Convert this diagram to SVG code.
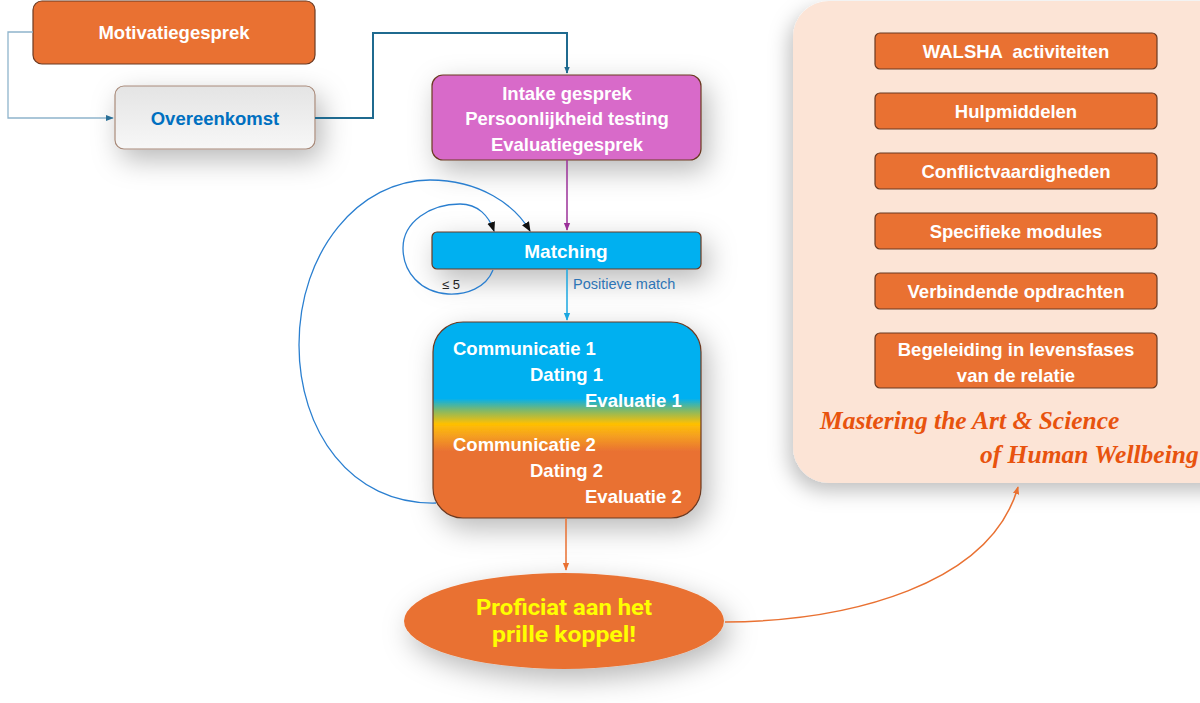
<svg xmlns="http://www.w3.org/2000/svg" width="1200" height="703" viewBox="0 0 1200 703">
<defs>
<style>
.box{stroke:#6b3a22;stroke-width:1.2}
.org{fill:#E97132}
.t{font-family:"Liberation Sans",Arial,sans-serif;font-weight:bold;font-size:18.5px;fill:#fff;white-space:pre}
.c{text-anchor:middle}
.con{fill:none}
.scr{font-family:"Liberation Serif",serif;font-style:italic;font-weight:bold;font-size:25.5px;fill:#E8530E}
</style>
<filter id="sh" x="-60%" y="-200%" width="220%" height="500%">
<feDropShadow dx="6" dy="10" stdDeviation="14" flood-color="#000" flood-opacity="0.28"/>
</filter>
<filter id="sh2" x="-20%" y="-20%" width="140%" height="140%">
<feDropShadow dx="-4" dy="8" stdDeviation="10" flood-color="#000" flood-opacity="0.25"/>
</filter>
<linearGradient id="gray" x1="0" y1="0" x2="0" y2="1">
<stop offset="0" stop-color="#e4e4e4"/><stop offset="1" stop-color="#f7f7f7"/>
</linearGradient>
<linearGradient id="grad" x1="0" y1="0" x2="0" y2="1">
<stop offset="0" stop-color="#00B0F0"/>
<stop offset="0.39" stop-color="#00B0F0"/>
<stop offset="0.45" stop-color="#7fb86a"/>
<stop offset="0.52" stop-color="#FFC000"/>
<stop offset="0.58" stop-color="#f5a020"/>
<stop offset="0.66" stop-color="#E97132"/>
<stop offset="1" stop-color="#E97132"/>
</linearGradient>
<marker id="aBlue" viewBox="0 0 10 10" refX="9" refY="5" markerWidth="7" markerHeight="7" orient="auto" markerUnits="userSpaceOnUse"><path d="M0,1 L10,5 L0,9 z" fill="#1f6a8f"/></marker>
<marker id="aLight" viewBox="0 0 10 10" refX="9" refY="5" markerWidth="8" markerHeight="8" orient="auto" markerUnits="userSpaceOnUse"><path d="M0,1 L10,5 L0,9 z" fill="#2a6f96"/></marker>
<marker id="aPurp" viewBox="0 0 10 10" refX="9" refY="5" markerWidth="8" markerHeight="8" orient="auto" markerUnits="userSpaceOnUse"><path d="M0,1 L10,5 L0,9 z" fill="#9b3099"/></marker>
<marker id="aCyan" viewBox="0 0 10 10" refX="9" refY="5" markerWidth="8" markerHeight="8" orient="auto" markerUnits="userSpaceOnUse"><path d="M0,1 L10,5 L0,9 z" fill="#1ba7e0"/></marker>
<marker id="aBlack" viewBox="0 0 10 10" refX="9" refY="5" markerWidth="10" markerHeight="10" orient="auto" markerUnits="userSpaceOnUse"><path d="M0,1 L10,5 L0,9 z" fill="#111"/></marker>
<marker id="aOrg" viewBox="0 0 10 10" refX="9" refY="5" markerWidth="8" markerHeight="8" orient="auto" markerUnits="userSpaceOnUse"><path d="M0,1 L10,5 L0,9 z" fill="#E97132"/></marker>
</defs>
<rect width="1200" height="703" fill="#fff"/>

<g id="panel">
<rect x="793" y="1" width="460" height="482" rx="36" fill="#FCE4D6" filter="url(#sh2)"/>
<text class="scr" x="820" y="429">Mastering the Art &amp; Science</text>
<text class="scr" x="980" y="463">of Human Wellbeing</text>
</g>
<g id="walsha"><rect class="box org" x="875" y="33" width="282" height="36" rx="5"/><text class="t c" x="1016" y="58">WALSHA  activiteiten</text></g>
<g id="hulp"><rect class="box org" x="875" y="93" width="282" height="36" rx="5"/><text class="t c" x="1016" y="118">Hulpmiddelen</text></g>
<g id="conflict"><rect class="box org" x="875" y="153" width="282" height="36" rx="5"/><text class="t c" x="1016" y="178">Conflictvaardigheden</text></g>
<g id="specifiek"><rect class="box org" x="875" y="213" width="282" height="36" rx="5"/><text class="t c" x="1016" y="238">Specifieke modules</text></g>
<g id="verbindend"><rect class="box org" x="875" y="273" width="282" height="36" rx="5"/><text class="t c" x="1016" y="298">Verbindende opdrachten</text></g>
<g id="begeleiding"><rect class="box org" x="875" y="333" width="282" height="55" rx="5"/><text class="t c" x="1016" y="356">Begeleiding in levensfases</text><text class="t c" x="1016" y="382">van de relatie</text></g>

<g id="motivatie"><rect class="box org" x="33" y="1" width="282" height="63" rx="9"/><text class="t c" x="174" y="39">Motivatiegesprek</text></g>
<g id="overeenkomst"><rect x="115" y="86" width="200" height="63" rx="9" fill="url(#gray)" stroke="#a88a7a" stroke-width="1.2" filter="url(#sh)"/><text class="t c" x="215" y="125" style="fill:#0070C0">Overeenkomst</text></g>
<g id="intake"><rect class="box" x="432" y="75" width="269" height="85" rx="11" fill="#D86BC9" filter="url(#sh)"/><text class="t c" x="567" y="100">Intake gesprek</text><text class="t c" x="567" y="125">Persoonlijkheid testing</text><text class="t c" x="567" y="151">Evaluatiegesprek</text></g>
<g id="matching"><rect class="box" x="432" y="232" width="269" height="37" rx="5" fill="#00B0F0" filter="url(#sh)"/><text class="t c" x="566" y="258" style="font-size:19px">Matching</text></g>
<g id="dating"><rect class="box" x="433" y="322" width="268" height="196" rx="30" fill="url(#grad)" filter="url(#sh)"/>
<text class="t" x="453" y="355">Communicatie 1</text><text class="t" x="530" y="381">Dating 1</text><text class="t" x="585" y="407">Evaluatie 1</text>
<text class="t" x="453" y="451">Communicatie 2</text><text class="t" x="530" y="477">Dating 2</text><text class="t" x="585" y="503">Evaluatie 2</text></g>
<g id="proficiat"><ellipse cx="564" cy="621" rx="160" ry="48" fill="#E97132" filter="url(#sh)"/>
<text class="t c" x="564" y="615" textLength="176" lengthAdjust="spacingAndGlyphs" style="fill:#FFFF00;font-size:22px;font-family:Roboto,'Liberation Sans',sans-serif">Proficiat aan het</text>
<text class="t c" x="564" y="642" textLength="144" lengthAdjust="spacingAndGlyphs" style="fill:#FFFF00;font-size:22px;font-family:Roboto,'Liberation Sans',sans-serif">prille koppel!</text></g>

<g id="connectors">
<path class="con" d="M33 32 H8 V118 H113" stroke="#8fb4cc" stroke-width="1.3" marker-end="url(#aLight)"/>
<path class="con" d="M315 118 H373 V33 H567 V73" stroke="#1f6a8f" stroke-width="2" marker-end="url(#aBlue)"/>
<path class="con" d="M567 160 V230" stroke="#9b3099" stroke-width="1.5" marker-end="url(#aPurp)"/>
<path class="con" d="M567 269 V320" stroke="#1ba7e0" stroke-width="1.5" marker-end="url(#aCyan)"/>
<text x="573" y="289" font-family="'Liberation Sans',Arial,sans-serif" font-size="14.5" fill="#2e75b6">Positieve match</text>
<path class="con" d="M493 270 C486 288 466 295 448 294 C420 292 403 272 403 248 C403 222 430 204 460 204 C478 204 489 216 494 231" stroke="#2a7fd0" stroke-width="1.3" marker-end="url(#aBlack)"/>
<text x="442" y="289" font-family="'Liberation Sans',Arial,sans-serif" font-size="13" fill="#222">≤ 5</text>
<path class="con" d="M436 503 C350 505 299 430 299 345 C299 250 360 180 430 180 C480 180 515 205 530 231" stroke="#2a7fd0" stroke-width="1.3" marker-end="url(#aBlack)"/>
<path class="con" d="M566 518 V570" stroke="#E97132" stroke-width="1.5" marker-end="url(#aOrg)"/>
<path class="con" d="M725 622 C850 621 990 585 1018 487" stroke="#E97132" stroke-width="1.5" marker-end="url(#aOrg)"/>
</g>
</svg>
